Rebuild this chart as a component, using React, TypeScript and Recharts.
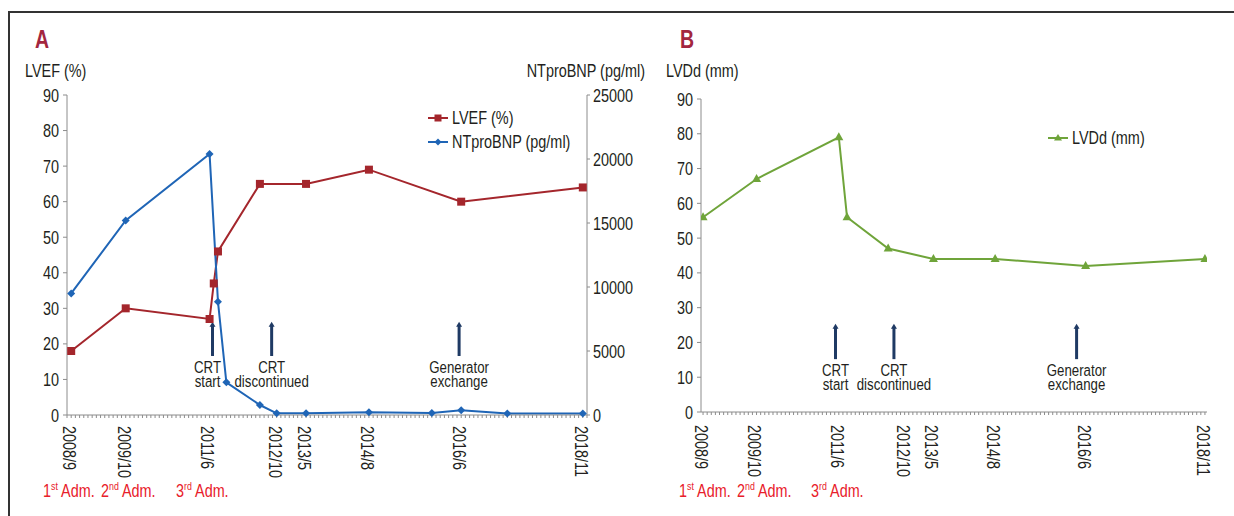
import React from "react";
import { LineChart, Line, XAxis, YAxis, ReferenceLine, Legend } from "recharts";

const FONT = '"Liberation Sans", Arial, sans-serif';
const NARROW = 0.78; // condensed look of the original figure font
const SIZE = 18.5;
const RED = "#a4262c";
const BLUE = "#1f65b6";
const GREEN = "#6fa43a";
const NAVY = "#1f3a64";
const INK = "#231f20";
const AXIS = "#8c8c8c";

// x tick labels (year/month)
const tickLabels = ["2008/9", "2009/10", "2011/6", "2012/10", "2013/5", "2014/8", "2016/6", "2018/11"];

// panel A
const lvefDates = ["2008/9", "2009/10", "2011/6", "2011/7", "2011/8", "2012/6", "2013/5", "2014/8", "2016/6", "2018/11"];
const lvefValues = [18, 30, 27, 37, 46, 65, 65, 69, 60, 64];
const bnpDates = ["2008/9", "2009/10", "2011/6", "2011/8", "2011/10", "2012/6", "2012/10", "2013/5", "2014/8", "2015/11", "2016/6", "2017/5", "2018/11"];
const bnpValues = [9500, 15200, 20400, 8850, 2550, 780, 130, 130, 210, 160, 370, 120, 120];

// panel B
const lvddDates = ["2008/9", "2009/10", "2011/6", "2011/8", "2012/6", "2013/5", "2014/8", "2016/6", "2018/11"];
const lvddValues = [56, 67, 79, 56, 47, 44, 44, 42, 44];

// events (months after 2008/9)
const eventText = [["CRT", "start"], ["CRT", "discontinued"], ["Generator", "exchange"]];
const eventMonthsA = [33.7, 47.8, 92.5];
const eventShiftA = [-5, 0, 0];
const eventMonthsB = [32.2, 46.4, 90.8];
const eventShiftB = [0, 0, 0];

const leftTicks = [0, 10, 20, 30, 40, 50, 60, 70, 80, 90];
const rightTicks = [0, 5000, 10000, 15000, 20000, 25000];

const toMonth = (d: string) => {
  const [y, m] = d.split("/").map(Number);
  return (y - 2008) * 12 + (m - 9);
};
const toRows = (dates: string[], values: number[]) => dates.map((d, i) => ({ m: toMonth(d), v: values[i] }));

const lvefData = toRows(lvefDates, lvefValues);
const bnpData = toRows(bnpDates, bnpValues);
const lvddData = toRows(lvddDates, lvddValues);

const majorMonths = tickLabels.map(toMonth);
const monthTicks = (from: number, to: number) => Array.from({ length: to - from + 1 }, (_, i) => from + i);

type NTProps = {
  x: number; y: number; size?: number; anchor?: "start" | "middle" | "end";
  fill?: string; rotate?: number; baseline?: string; weight?: string; children: React.ReactNode;
};
const NText = ({ x, y, size = SIZE, anchor = "start", fill = INK, rotate = 0, baseline, weight, children }: NTProps) => (
  <text transform={`translate(${x},${y}) rotate(${rotate}) scale(${NARROW},1)`} x={0} y={0}
    textAnchor={anchor} dominantBaseline={baseline} fontSize={size} fontFamily={FONT} fontWeight={weight} fill={fill}>
    {children}
  </text>
);

const DateTick = (p: any) => {
  const i = majorMonths.indexOf(p.payload.value);
  if (i < 0) return <g />;
  return <NText x={p.x - 2} y={p.y} rotate={90} baseline="central">{tickLabels[i]}</NText>;
};

const ValueTick = (p: any) => (
  <NText x={p.x} y={p.y + 6.5} anchor={p.textAnchor}>{p.payload.value}</NText>
);

const squareDot = (p: any) =>
  p.cx == null ? <g key={p.index} /> : <rect key={p.index} x={p.cx - 4} y={p.cy - 4} width={8} height={8} fill={RED} />;
const diamondDot = (p: any) =>
  p.cx == null ? <g key={p.index} /> : (
    <path key={p.index} d={`M${p.cx},${p.cy - 4}L${p.cx + 4},${p.cy}L${p.cx},${p.cy + 4}L${p.cx - 4},${p.cy}Z`} fill={BLUE} />
  );
const triangleDot = (p: any) =>
  p.cx == null ? <g key={p.index} /> : (
    <path key={p.index} d={`M${p.cx},${p.cy - 5}L${p.cx + 4.5},${p.cy + 3}L${p.cx - 4.5},${p.cy + 3}Z`} fill={GREEN} />
  );

const markers: Record<string, (cx: number, cy: number, c: string) => React.ReactNode> = {
  square: (cx, cy, c) => <rect x={cx - 3.5} y={cy - 3.5} width={7} height={7} fill={c} />,
  diamond: (cx, cy, c) => <path d={`M${cx},${cy - 3.5}L${cx + 3.5},${cy}L${cx},${cy + 3.5}L${cx - 3.5},${cy}Z`} fill={c} />,
  triangle: (cx, cy, c) => <path d={`M${cx},${cy - 4}L${cx + 4},${cy + 2.5}L${cx - 4},${cy + 2.5}Z`} fill={c} />,
};
const legendMarker: Record<string, string> = { "LVEF (%)": "square", "NTproBNP (pg/ml)": "diamond", "LVDd (mm)": "triangle" };

const renderLegend = (props: any) => (
  <div style={{ fontFamily: FONT, fontSize: SIZE, color: INK }}>
    {(props.payload || []).map((item: any) => (
      <div key={item.value} style={{ display: "flex", alignItems: "center", height: 24, whiteSpace: "nowrap" }}>
        <svg width={22} height={12} style={{ marginRight: 3 }}>
          <line x1={1} y1={6} x2={21} y2={6} stroke={item.color} strokeWidth={2} />
          {markers[legendMarker[item.value]](11, 6, item.color)}
        </svg>
        <span style={{ display: "inline-block", transform: `scaleX(${NARROW})`, transformOrigin: "left center" }}>
          {item.value}
        </span>
      </div>
    ))}
  </div>
);

const eventShape = (lines: string[], dx: number) => (p: any) => {
  const x = p.x1;
  const bottom = Math.max(p.y1, p.y2);
  const top = Math.min(p.y1, p.y2);
  return (
    <g>
      <line x1={x} y1={bottom} x2={x} y2={top + 4} stroke={NAVY} strokeWidth={3} />
      <path d={`M${x - 3},${top + 5}L${x},${top}L${x + 3},${top + 5}Z`} fill={NAVY} />
      <NText x={x + dx} y={bottom + 17} size={17} anchor="middle">{lines[0]}</NText>
      <NText x={x + dx} y={bottom + 31} size={17} anchor="middle">{lines[1]}</NText>
    </g>
  );
};

const PanelA = () => (
  <LineChart width={640} height={516} margin={{ top: 95, right: 0, bottom: 41, left: 0 }}>
    <XAxis xAxisId="x" dataKey="m" type="number" domain={[-1, 123]} ticks={monthTicks(-1, 123)} interval={0}
      height={60} tick={<DateTick />} tickSize={3} tickMargin={8} stroke={AXIS} allowDataOverflow />
    <YAxis yAxisId="left" width={67} domain={[0, 90]} ticks={leftTicks} interval={0} tickSize={4} tickMargin={4}
      stroke={AXIS} tick={<ValueTick />} />
    <YAxis yAxisId="right" orientation="right" width={53} domain={[0, 25000]} ticks={rightTicks} interval={0}
      tickSize={3} tickMargin={3} stroke={AXIS} tick={<ValueTick />} />
    {eventMonthsA.map((m, i) => (
      <ReferenceLine key={i} xAxisId="x" yAxisId="left" segment={[{ x: m, y: 16.6 }, { x: m, y: 26.2 }]}
        ifOverflow="visible" shape={eventShape(eventText[i], eventShiftA[i])} />
    ))}
    <Line xAxisId="x" yAxisId="left" data={lvefData} dataKey="v" name="LVEF (%)" stroke={RED} strokeWidth={2}
      dot={squareDot} activeDot={false} isAnimationActive={false} />
    <Line xAxisId="x" yAxisId="right" data={bnpData} dataKey="v" name="NTproBNP (pg/ml)" stroke={BLUE} strokeWidth={2}
      dot={diamondDot} activeDot={false} isAnimationActive={false} />
    <Legend layout="vertical" align="center" verticalAlign="middle" content={renderLegend}
      wrapperStyle={{ left: 427, top: 106, width: 180 }} />
  </LineChart>
);

const PanelB = () => (
  <LineChart width={614} height={516} margin={{ top: 99, right: 27, bottom: 44, left: 0 }}>
    <XAxis dataKey="m" type="number" domain={[-0.5, 122.5]} ticks={monthTicks(0, 122)} interval={0}
      height={60} tick={<DateTick />} tickSize={3} tickMargin={10} stroke={AXIS} allowDataOverflow />
    <YAxis width={81} domain={[0, 90]} ticks={leftTicks} interval={0} tickSize={4} tickMargin={4}
      stroke={AXIS} tick={<ValueTick />} />
    {eventMonthsB.map((m, i) => (
      <ReferenceLine key={i} segment={[{ x: m, y: 15.2 }, { x: m, y: 25.4 }]}
        ifOverflow="visible" shape={eventShape(eventText[i], eventShiftB[i])} />
    ))}
    <Line data={lvddData} dataKey="v" name="LVDd (mm)" stroke={GREEN} strokeWidth={2}
      dot={triangleDot} activeDot={false} isAnimationActive={false} />
    <Legend layout="vertical" align="center" verticalAlign="middle" content={renderLegend}
      wrapperStyle={{ left: 427, top: 126, width: 140 }} />
  </LineChart>
);

const Adm = ({ x, n, suf }: { x: number; n: string; suf: string }) => (
  <text transform={`translate(${x},497) scale(0.8,1)`} fontSize={18} fontFamily={FONT} fill="#e8202a">
    {n}
    <tspan fontSize={11} dy={-7}>{suf}</tspan>
    <tspan dy={7}> Adm.</tspan>
  </text>
);

const App = () => (
  <div style={{ position: "relative", width: 1234, height: 516, overflow: "hidden", background: "#fff" }}>
    <style>{"body{margin:0}"}</style>
    <div style={{ position: "absolute", left: 8, top: 11, width: 1226, height: 1.5, background: "#333" }} />
    <div style={{ position: "absolute", left: 8, top: 11, width: 1.5, height: 505, background: "#333" }} />
    <div style={{ position: "absolute", left: 0, top: 0 }}>
      <PanelA />
    </div>
    <div style={{ position: "absolute", left: 620, top: 0 }}>
      <PanelB />
    </div>
    <svg width={1234} height={516} style={{ position: "absolute", left: 0, top: 0, pointerEvents: "none" }}>
      <NText x={35} y={48} size={25} weight="bold" fill="#a3263f">A</NText>
      <NText x={680} y={48} size={25} weight="bold" fill="#a3263f">B</NText>
      <NText x={25} y={77}>LVEF (%)</NText>
      <NText x={645} y={77} anchor="end">NTproBNP (pg/ml)</NText>
      <NText x={666} y={77}>LVDd (mm)</NText>
      <Adm x={43} n="1" suf="st" />
      <Adm x={101} n="2" suf="nd" />
      <Adm x={176} n="3" suf="rd" />
      <Adm x={679} n="1" suf="st" />
      <Adm x={737} n="2" suf="nd" />
      <Adm x={811} n="3" suf="rd" />
    </svg>
  </div>
);

export default App;
